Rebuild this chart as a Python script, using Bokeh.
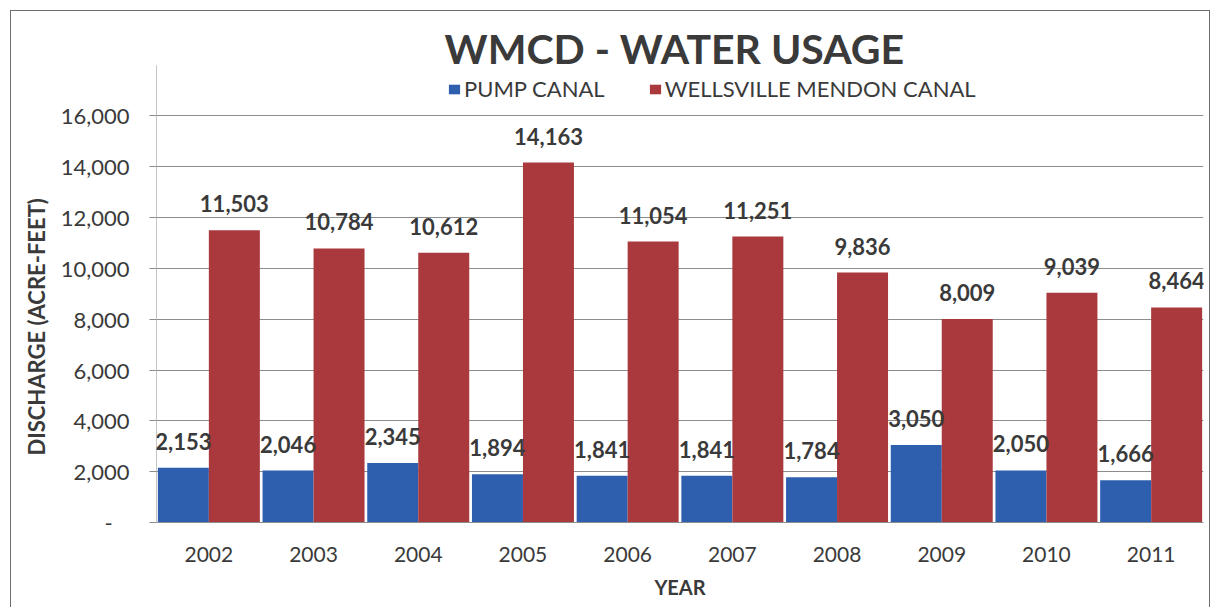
from bokeh.plotting import figure
from bokeh.models import (ColumnDataSource, FactorRange, Range1d, FixedTicker,
                          LabelSet, Label, Legend, LegendItem, Title)
from bokeh.transform import dodge
from bokeh.embed import file_html
from bokeh.resources import INLINE
from bokeh.core.properties import value

# ---------------- data ----------------
years = ["2002", "2003", "2004", "2005", "2006", "2007", "2008", "2009", "2010", "2011"]
pump_canal = [2153, 2046, 2345, 1894, 1841, 1841, 1784, 3050, 2050, 1666]
wellsville_mendon_canal = [11503, 10784, 10612, 14163, 11054, 11251, 9836, 8009, 9039, 8464]
series_names = ["PUMP CANAL", "WELLSVILLE MENDON CANAL"]
y_ticks = [0, 2000, 4000, 6000, 8000, 10000, 12000, 14000, 16000]
y_tick_labels = ["-\u00a0\u00a0\u00a0", "2,000", "4,000", "6,000", "8,000", "10,000", "12,000", "14,000", "16,000"]
y_axis_max = 18000
title_text = "WMCD - WATER USAGE"
x_title = "YEAR"
y_title = "DISCHARGE (ACRE-FEET)"

# ---------------- styles ----------------
BLUE = "#2E5EAE"
RED = "#A9393C"
TXT = "#3a3a3a"
GRID = "#8c8c8c"
FONT = "Lato"

src = ColumnDataSource(dict(
    year=years,
    pump=pump_canal,
    wmc=wellsville_mendon_canal,
    pump_text=[f"{v:,}" for v in pump_canal],
    wmc_text=[f"{v:,}" for v in wellsville_mendon_canal],
))

# frame extends above the axis maximum so title/legend sit inside it
p = figure(x_range=FactorRange(*years), y_range=Range1d(0, 20030),
           width=1200, height=597, output_backend="svg", toolbar_location=None,
           min_border_left=145, min_border_right=8, min_border_top=2, min_border_bottom=86)
p.margin = (10, 6, 0, 10)
p.styles = {"border-top": "1.5px solid #6e6e6e", "border-left": "1.5px solid #6e6e6e",
            "border-right": "1.5px solid #6e6e6e"}
p.outline_line_color = None
p.background_fill_color = "white"
p.border_fill_color = "white"

bw = 0.487
off = bw / 2
r1 = p.vbar(x=dodge("year", -off, range=p.x_range), top="pump", width=bw, source=src,
            fill_color=BLUE, line_color=None)
r2 = p.vbar(x=dodge("year", off, range=p.x_range), top="wmc", width=bw, source=src,
            fill_color=RED, line_color=None)

for col, tcol, dx in (("pump", "pump_text", -off), ("wmc", "wmc_text", off)):
    p.add_layout(LabelSet(x=dodge("year", dx, range=p.x_range), y=col, text=tcol, source=src,
                          text_align="center", text_baseline="alphabetic", y_offset=18,
                          text_font=value(FONT), text_font_size="22px", text_font_style="bold",
                          text_color=TXT))

# y axis line only up to the axis maximum
p.segment(x0=[0], y0=[0], x1=[0], y1=[y_axis_max], line_color=GRID, line_width=1)

# axes
yax = p.yaxis[0]
yax.ticker = FixedTicker(ticks=y_ticks)
yax.major_label_overrides = {t: l for t, l in zip(y_ticks, y_tick_labels)}
yax.minor_tick_line_color = None
yax.major_tick_in = 0
yax.major_tick_out = 7
yax.major_tick_line_color = GRID
yax.axis_line_color = None
yax.major_label_standoff = 20
yax.major_label_text_font = FONT
yax.major_label_text_font_size = "22px"
yax.major_label_text_color = TXT

xax = p.xaxis[0]
xax.major_tick_in = 0
xax.major_tick_out = 0
xax.axis_line_color = GRID
xax.major_label_standoff = 24
xax.major_label_text_font = FONT
xax.major_label_text_font_size = "21px"
xax.major_label_text_color = TXT
xax.axis_label = x_title
xax.axis_label_standoff = 10
xax.axis_label_text_font = FONT
xax.axis_label_text_font_size = "20px"
xax.axis_label_text_font_style = "bold"
xax.axis_label_text_color = TXT

p.xgrid.grid_line_color = None
p.ygrid.grid_line_color = GRID
p.ygrid.grid_line_width = 1

# y axis title on the left, starting above the bottom of the frame
p.add_layout(Title(text=y_title, align="left", offset=67, standoff=16,
                   text_font=FONT, text_font_size="22px", text_font_style="bold",
                   text_color=TXT), "left")

# chart title inside the (extended) frame
p.add_layout(Label(x=518, y=18670, x_units="screen", y_units="data", text=title_text,
                   text_align="center", text_baseline="alphabetic",
                   text_font=FONT, text_font_size="41px", text_font_style="bold", text_color=TXT))

legend = Legend(items=[LegendItem(label=series_names[0], renderers=[r1]),
                       LegendItem(label=series_names[1], renderers=[r2])],
                orientation="horizontal", location=(291, 420),
                glyph_width=14, glyph_height=12, label_standoff=3, spacing=43,
                padding=0, margin=0, border_line_color=None, background_fill_alpha=0,
                label_text_font=FONT, label_text_font_size="22px", label_text_color=TXT)
p.add_layout(legend)

open("out.html", "w").write(file_html(p, INLINE))
